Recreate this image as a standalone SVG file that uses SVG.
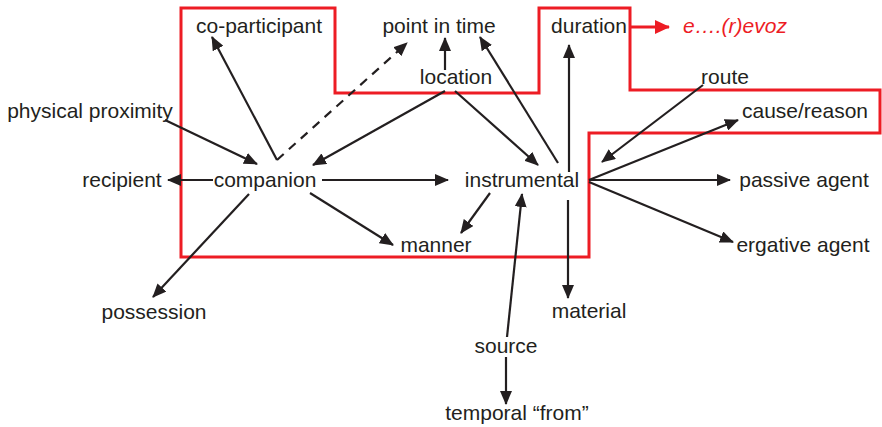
<svg xmlns="http://www.w3.org/2000/svg" width="882" height="427" viewBox="0 0 882 427">
<defs>
<style>
text{font-family:"Liberation Sans",Arial,sans-serif;font-size:21px;fill:#231f20;text-anchor:middle}
.red{fill:#ed1c24;font-style:italic}
.c{stroke:#231f20;stroke-width:2.2;fill:none;marker-end:url(#ah)}
.d{stroke-dasharray:9 7}
.frame{stroke:#ed1c24;stroke-width:3;fill:none}
</style>
<marker id="ah" viewBox="0 0 14 12" refX="13" refY="6" markerWidth="14" markerHeight="12" markerUnits="userSpaceOnUse" orient="auto">
<path d="M0,0 L14,6 L0,12 z" fill="#231f20"/>
</marker>
<marker id="ahr" viewBox="0 0 15 14" refX="14" refY="7" markerWidth="15" markerHeight="14" markerUnits="userSpaceOnUse" orient="auto">
<path d="M0,0 L15,7 L0,14 z" fill="#ed1c24"/>
</marker>
</defs>
<rect width="882" height="427" fill="#fff"/>
<path class="frame" d="M181,8 H335 V93 H539 V8 H630 V90 H880 V133 H589 V257 H181 Z"/>
<g id="connectors">
<line x1="630" y1="27" x2="669" y2="27" stroke="#ed1c24" stroke-width="3" marker-end="url(#ahr)"/>
<line class="c" x1="277" y1="160" x2="212" y2="37"/>
<line class="c d" x1="277" y1="160" x2="407" y2="43"/>
<line class="c" x1="445" y1="70" x2="445" y2="38"/>
<line class="c" x1="445" y1="91" x2="313" y2="165"/>
<line class="c" x1="455" y1="91" x2="538" y2="165"/>
<line class="c" x1="558" y1="163" x2="480" y2="37"/>
<line class="c" x1="569" y1="172" x2="569" y2="45"/>
<line class="c" x1="568" y1="200" x2="568" y2="298"/>
<line class="c" x1="490" y1="193" x2="461" y2="233"/>
<line class="c" x1="507" y1="337" x2="522" y2="194"/>
<line class="c" x1="506" y1="357" x2="506" y2="404"/>
<line class="c" x1="165" y1="120" x2="257" y2="164"/>
<line class="c" x1="213" y1="180" x2="168" y2="180"/>
<line class="c" x1="322" y1="180" x2="448" y2="180"/>
<line class="c" x1="310" y1="193" x2="393" y2="245"/>
<line class="c" x1="249" y1="194" x2="153" y2="297"/>
<line class="c" x1="589" y1="180" x2="738" y2="120"/>
<line class="c" x1="703" y1="85" x2="602" y2="162"/>
<line class="c" x1="589" y1="180" x2="730" y2="180"/>
<line class="c" x1="589" y1="182" x2="733" y2="242"/>
</g>
<g id="co-participant"><text x="259" y="33">co-participant</text></g>
<g id="point-in-time"><text x="439" y="33">point in time</text></g>
<g id="duration"><text x="589" y="33">duration</text></g>
<g id="evoz"><text class="red" x="735" y="33">e….(r)evoz</text></g>
<g id="location"><text x="456" y="84">location</text></g>
<g id="route"><text x="725" y="84">route</text></g>
<g id="cause-reason"><text x="805" y="118">cause/reason</text></g>
<g id="physical-proximity"><text x="90" y="118">physical proximity</text></g>
<g id="recipient"><text x="122" y="187">recipient</text></g>
<g id="companion"><text x="265" y="187">companion</text></g>
<g id="instrumental"><text x="522" y="187">instrumental</text></g>
<g id="passive-agent"><text x="804" y="187">passive agent</text></g>
<g id="manner"><text x="436" y="252">manner</text></g>
<g id="ergative-agent"><text x="803" y="252">ergative agent</text></g>
<g id="possession"><text x="154" y="319">possession</text></g>
<g id="material"><text x="589" y="318">material</text></g>
<g id="source"><text x="506" y="353">source</text></g>
<g id="temporal-from"><text x="517" y="420">temporal “from”</text></g>
</svg>
